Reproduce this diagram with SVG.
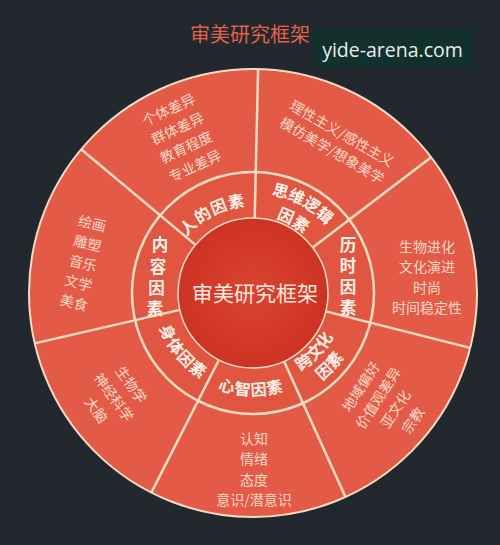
<svg xmlns="http://www.w3.org/2000/svg" width="500" height="545" viewBox="0 0 500 545">
<style>
.bg{fill:#23272e}
.title{font-family:"Noto Sans CJK SC","Noto Sans",sans-serif;font-size:20px;fill:#e2624c;text-anchor:middle}
.wm-box{fill:#12302c}
.wm{font-family:"Open Sans","Noto Sans",sans-serif;font-size:19.5px;fill:#e8ecea;text-anchor:middle}
.outer{fill:#e35b46;stroke:#f6dcc4;stroke-width:2}
.ring{fill:#e05641;stroke:#f6dcc4;stroke-width:2.5}
.core{fill:url(#coreGrad);stroke:#f6dcc4;stroke-width:1.5}
.sep{stroke:#f6dcc4;stroke-width:2.5;fill:none}
.lab{font-family:"Noto Sans CJK SC",sans-serif;font-size:16px;font-weight:700;fill:#fff3ea;text-anchor:middle}
.wide{letter-spacing:1px}
.vlab{font-family:"Noto Sans CJK SC",sans-serif;font-size:16.5px;font-weight:700;fill:#fff3ea;text-anchor:middle}
.item{font-family:"Noto Sans CJK SC",sans-serif;font-size:14px;fill:#f9d9c9;text-anchor:middle}
.ctext{font-family:"Noto Sans CJK SC",sans-serif;font-size:21px;fill:#fde9df;text-anchor:middle}
</style>
<defs>
<radialGradient id="coreGrad" cx="50%" cy="50%" r="50%">
<stop offset="0%" stop-color="#dc4432"/>
<stop offset="100%" stop-color="#cc3322"/>
</radialGradient>
<path id="p-ren" d="M-84.8,-19.6 A87,87 0 0 1 34.0,-80.1"/>
<path id="p-siwei1" d="M-35.8,-93.4 A100,100 0 0 1 98.2,-19.1"/>
<path id="p-siwei2" d="M-28.0,-72.8 A78,78 0 0 1 76.6,-14.9"/>
<path id="p-kua1" d="M-5.7,91.3 A91.5,91.5 0 0 0 90.9,-10.2"/>
<path id="p-kua2" d="M-7.0,111.3 A111.5,111.5 0 0 0 110.8,-12.4"/>
<path id="p-shen" d="M-98.4,-17.7 A100,100 0 0 0 -0.35,100"/>
<path id="p-xin" d="M-80.0,64.4 A102.7,102.7 0 0 0 77.3,67.6"/>
</defs>

<rect class="bg" x="0" y="0" width="500" height="545"/>
<text class="title" x="250" y="41.5">审美研究框架</text>
<g id="watermark">
<rect class="wm-box" x="312" y="28" width="161" height="40" rx="8"/>
<text class="wm" x="392.5" y="57">yide-arena.com</text>
</g>

<g id="disc">
<circle class="outer" cx="253" cy="293" r="224"/>
<circle class="ring" cx="253" cy="293" r="121"/>
</g>

<g id="connectors" transform="translate(253,293)">
<line class="sep" x1="1.7" y1="-75" x2="5.1" y2="-223.9"/>
<line class="sep" x1="59.7" y1="-45.4" x2="178.2" y2="-135.7"/>
<line class="sep" x1="72.7" y1="18.4" x2="217.1" y2="54.9"/>
<line class="sep" x1="31.0" y1="68.3" x2="92.5" y2="204.0"/>
<line class="sep" x1="-34.0" y1="66.8" x2="-101.7" y2="199.6"/>
<line class="sep" x1="-73.1" y1="16.9" x2="-218.3" y2="50.4"/>
<line class="sep" x1="-57.5" y1="-48.1" x2="-171.9" y2="-143.7"/>
</g>

<g id="center">
<circle class="core" cx="253" cy="293" r="75"/>
<text class="ctext" x="255" y="301">审美研究框架</text>
</g>

<g id="n-ren">
<text class="lab wide" transform="translate(253,293)"><textPath href="#p-ren" startOffset="50%">人的因素</textPath></text>
<g transform="translate(181.8,137.7) rotate(-25)">
<text class="item" x="0" y="-25.7">个体差异</text>
<text class="item" x="0" y="-5.0">群体差异</text>
<text class="item" x="0" y="15.7">教育程度</text>
<text class="item" x="0" y="36.4">专业差异</text>
</g>
</g>

<g id="n-siwei">
<text class="lab" transform="translate(253,293)"><textPath href="#p-siwei1" startOffset="50%">思维逻辑</textPath></text>
<text class="lab" transform="translate(253,293)"><textPath href="#p-siwei2" startOffset="50%">因素</textPath></text>
<g transform="translate(337,141.8) rotate(30)">
<text class="item" x="0" y="-4.6">理性主义/感性主义</text>
<text class="item" x="0" y="15.2">模仿美学/想象美学</text>
</g>
</g>

<g id="n-lishi">
<text class="vlab" x="348" y="251">历</text>
<text class="vlab" x="348" y="272">时</text>
<text class="vlab" x="348" y="293">因</text>
<text class="vlab" x="348" y="314">素</text>
<text class="item" x="427" y="252">生物进化</text>
<text class="item" x="427" y="272.3">文化演进</text>
<text class="item" x="427" y="292.6">时尚</text>
<text class="item" x="427" y="312.9">时间稳定性</text>
</g>

<g id="n-kuawenhua">
<text class="lab" transform="translate(253,293)"><textPath href="#p-kua1" startOffset="50%">跨文化</textPath></text>
<text class="lab" transform="translate(253,293)"><textPath href="#p-kua2" startOffset="50%">因素</textPath></text>
<g transform="translate(386.8,403.5) rotate(-57)">
<text class="item" x="0" y="-25.6">地域偏好</text>
<text class="item" x="0" y="-5.0">价值观差异</text>
<text class="item" x="0" y="15.6">亚文化</text>
<text class="item" x="0" y="36.2">宗教</text>
</g>
</g>

<g id="n-xinzhi">
<text class="lab wide" transform="translate(253,293)"><textPath href="#p-xin" startOffset="50%">心智因素</textPath></text>
<text class="item" x="254" y="443.5">认知</text>
<text class="item" x="254" y="464">情绪</text>
<text class="item" x="254" y="484.5">态度</text>
<text class="item" x="254" y="505">意识/潜意识</text>
</g>

<g id="n-shenti">
<text class="lab wide" transform="translate(253,293)"><textPath href="#p-shen" startOffset="50%">身体因素</textPath></text>
<g transform="translate(113.8,397.2) rotate(54)">
<text class="item" x="0" y="-16.3">生物学</text>
<text class="item" x="0" y="5.3">神经科学</text>
<text class="item" x="0" y="26.9">大脑</text>
</g>
</g>

<g id="n-neirong">
<text class="vlab" x="160" y="251">内</text>
<text class="vlab" x="158" y="273">容</text>
<text class="vlab" x="156.5" y="294">因</text>
<text class="vlab" x="155" y="315">素</text>
<g transform="translate(83,263) rotate(13)">
<text class="item" x="0" y="-35.3">绘画</text>
<text class="item" x="0" y="-15">雕塑</text>
<text class="item" x="0" y="5.3">音乐</text>
<text class="item" x="0" y="25.6">文学</text>
<text class="item" x="0" y="45.9">美食</text>
</g>
</g>
</svg>
